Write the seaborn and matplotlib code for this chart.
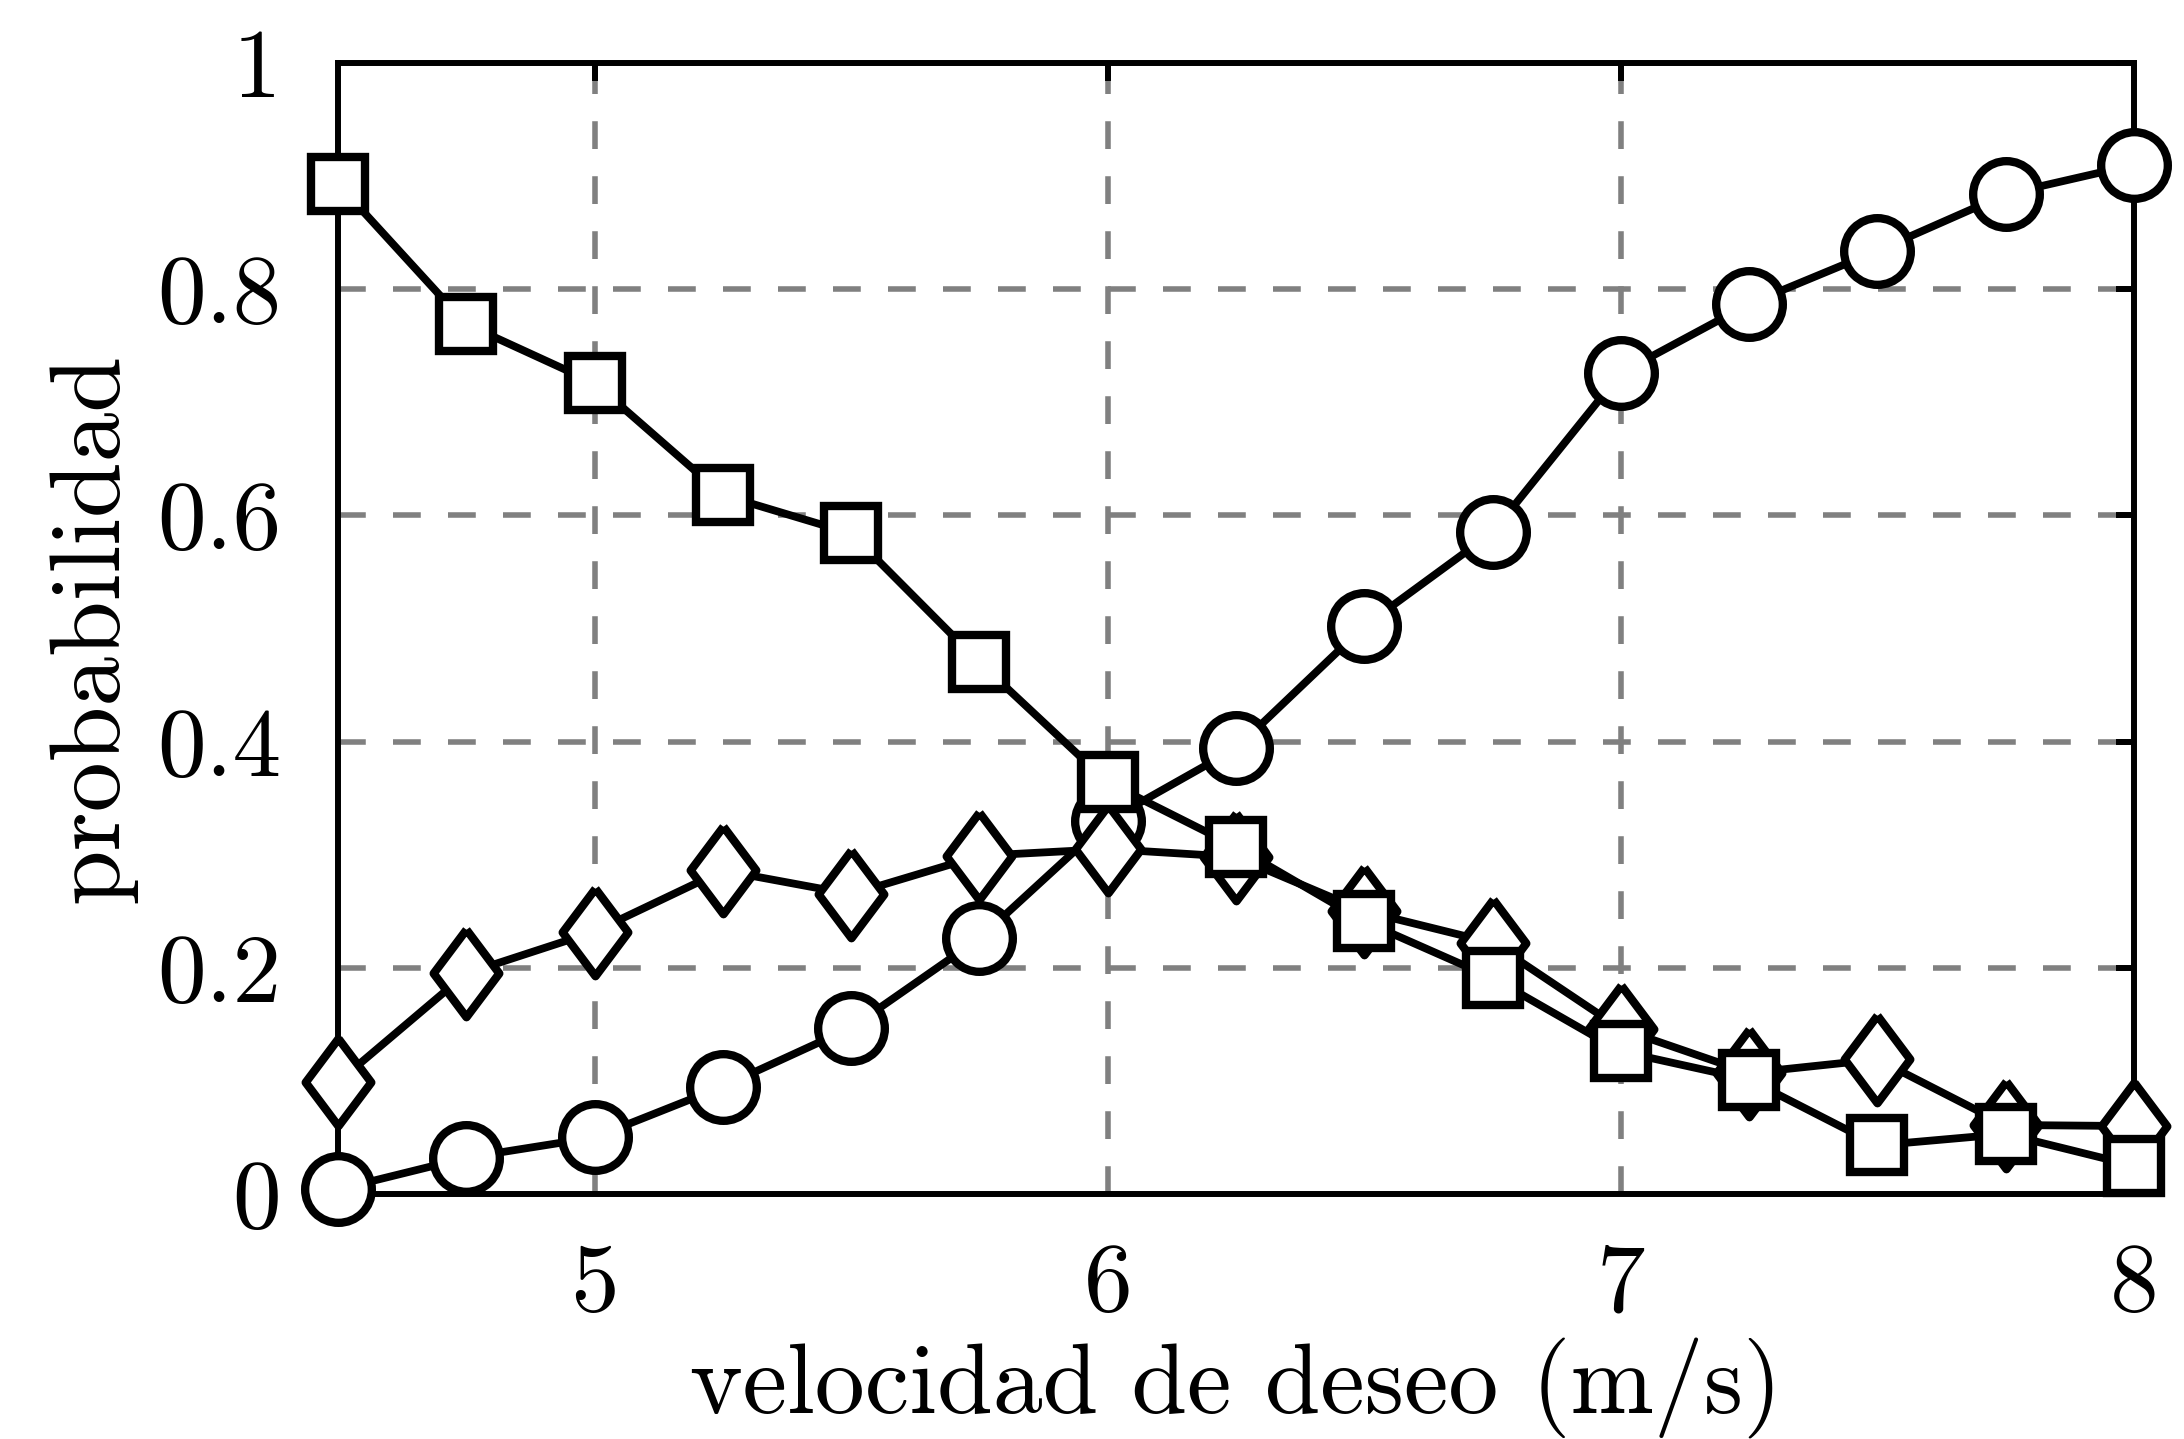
#%% imports
import matplotlib
matplotlib.use("Agg")
import matplotlib.pyplot as plt
import seaborn as sns
import pandas as pd

#%% data
velocidad = [4.5, 4.75, 5.0, 5.25, 5.5, 5.75, 6.0, 6.25, 6.5, 6.75, 7.0, 7.25, 7.5, 7.75, 8.0]
prob_cuadrado = [0.893, 0.769, 0.717, 0.618, 0.584, 0.470, 0.364, 0.307, 0.241, 0.191, 0.126, 0.101, 0.043, 0.053, 0.025]
prob_circulo = [0.004, 0.032, 0.050, 0.095, 0.147, 0.226, 0.330, 0.394, 0.502, 0.585, 0.726, 0.787, 0.834, 0.884, 0.910]
prob_rombo = [0.099, 0.195, 0.232, 0.286, 0.265, 0.299, 0.305, 0.298, 0.250, 0.222, 0.146, 0.107, 0.119, 0.061, 0.060]

xticks = [5, 6, 7, 8]
xticklabels = ["5", "6", "7", "8"]
yticks = [0, 0.2, 0.4, 0.6, 0.8, 1]
yticklabels = ["0", "0.2", "0.4", "0.6", "0.8", "1"]

#%% style
sns.set_theme(style="white")
plt.rcParams["font.family"] = ["cmr10", "DejaVu Serif"]
plt.rcParams["mathtext.fontset"] = "cm"
plt.rcParams["axes.formatter.use_mathtext"] = True
plt.rcParams["text.color"] = "black"
plt.rcParams["axes.labelcolor"] = "black"

df = pd.DataFrame({
    "v": velocidad * 3,
    "p": prob_circulo + prob_rombo + prob_cuadrado,
    "serie": ["circulo"] * 15 + ["rombo"] * 15 + ["cuadrado"] * 15,
})

# diamond a bit wider than matplotlib's thin diamond
rombo = [(0, 1), (0.75, 0), (0, -1), (-0.75, 0), (0, 1)]
estilos = {
    "circulo": dict(marker="o", markersize=48, zorder=3),
    "rombo": dict(marker=rombo, markersize=63, zorder=4),
    "cuadrado": dict(marker="s", markersize=39, zorder=5),
}

fig = plt.figure(figsize=(21.84, 14.39), dpi=100)
ax = fig.add_axes([0.1548, 0.1703, 0.8223, 0.7859])

for serie, kw in estilos.items():
    sub = df[df["serie"] == serie]
    sns.lineplot(data=sub, x="v", y="p", ax=ax, errorbar=None,
                 color="black", linewidth=5.6, mfc="white", mec="black",
                 mew=6, clip_on=False, **kw)

ax.set_xlim(4.5, 8)
ax.set_ylim(0, 1)
ax.set_xticks(xticks)
ax.set_xticklabels(xticklabels)
ax.set_yticks(yticks)
ax.set_yticklabels(yticklabels)

ax.set_axisbelow(True)
ax.grid(True, color="#808080", linewidth=4, linestyle=(0, (5, 4.9)))

for s in ax.spines.values():
    s.set_visible(True)
    s.set_color("black")
    s.set_linewidth(4.3)

ax.tick_params(direction="in", length=13, width=4.3, colors="black",
               top=True, right=True, labelsize=70)
ax.tick_params(axis="x", pad=35)
ax.tick_params(axis="y", pad=41)

ax.set_xlabel("velocidad de deseo (m/s)", fontsize=72, color="black")
ax.xaxis.label.set_va("baseline")
ax.xaxis.set_label_coords(0.5, -0.193)
ax.set_ylabel("probabilidad", fontsize=72, color="black")
ax.yaxis.set_label_coords(-0.1125, 0.5)

fig.savefig("out.png", dpi=100)
print("done")
